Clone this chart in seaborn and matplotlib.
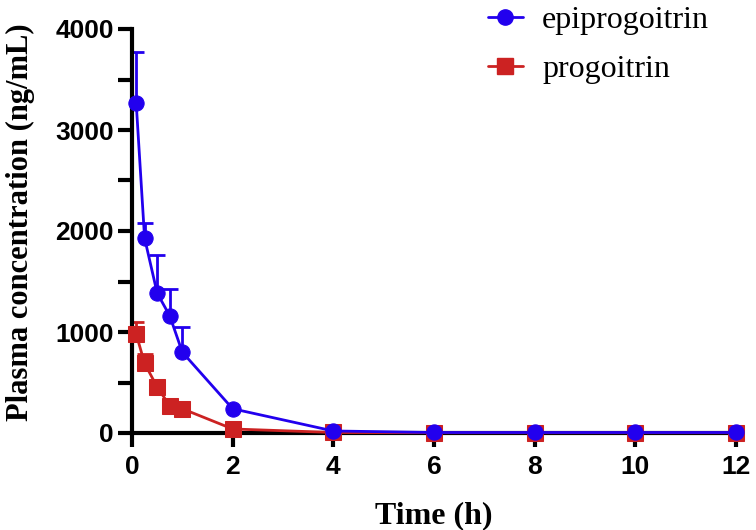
import numpy as np
import pandas as pd
import matplotlib
matplotlib.use("Agg")
import matplotlib.pyplot as plt
import seaborn as sns
from matplotlib.lines import Line2D

time_h = [0.083, 0.25, 0.5, 0.75, 1, 2, 4, 6, 8, 10, 12]
epi_mean = [3270, 1930, 1385, 1160, 800, 240, 20, 5, 5, 5, 5]
epi_sd = [500, 150, 380, 265, 250, 0, 0, 0, 0, 0, 0]
pro_mean = [980, 690, 455, 270, 240, 40, 5, 3, 3, 3, 3]
pro_sd = [120, 90, 50, 0, 0, 0, 0, 0, 0, 0, 0]
series_names = ["epiprogoitrin", "progoitrin"]
x_ticks = [0, 2, 4, 6, 8, 10, 12]
y_ticks = [0, 1000, 2000, 3000, 4000]

blue = "#2200EE"
red = "#CC2222"

sns.set_style("ticks", {"axes.edgecolor": "black", "text.color": "black",
                        "xtick.color": "black", "ytick.color": "black",
                        "axes.labelcolor": "black"})
plt.rcParams['font.family'] = ['Liberation Sans', 'DejaVu Sans']

df = pd.DataFrame({
    "time": time_h * 2,
    "conc": pro_mean + epi_mean,
    "compound": [series_names[1]] * len(time_h) + [series_names[0]] * len(time_h),
})

fig = plt.figure(figsize=(7.56, 5.30), dpi=100)
ax = fig.add_axes([132/756, 1 - 433/530, (736 - 132)/756, (433 - 29)/530])

for name, mean, sd, color, marker in [
    (series_names[1], pro_mean, pro_sd, red, "s"),
    (series_names[0], epi_mean, epi_sd, blue, "o"),
]:
    sub = df[df["compound"] == name]
    sns.lineplot(data=sub, x="time", y="conc", ax=ax, color=color, marker=marker,
                 markersize=11, markeredgecolor=color, linewidth=2, legend=False,
                 clip_on=False, zorder=3)
    mean_a = np.asarray(mean, float)
    sd_a = np.asarray(sd, float)
    has = sd_a > 0
    t_a = np.asarray(time_h, float)
    ax.errorbar(t_a[has], mean_a[has], yerr=[np.zeros(has.sum()), sd_a[has]], fmt="none",
                ecolor=color, elinewidth=2, capsize=0, clip_on=False, zorder=2)
    ax.plot(t_a[has], (mean_a + sd_a)[has], linestyle="none", marker="_",
            markersize=12, markeredgewidth=2, color=color, zorder=2)

ax.set_xlim(0, 12)
ax.set_ylim(0, 4000)
ax.set_xticks(x_ticks)
ax.set_yticks(y_ticks)
ax.set_yticks([500, 1500, 2500, 3500], minor=True)
ax.tick_params(axis="both", which="both", length=10, width=3, direction="out",
               color="black", labelcolor="black")
ax.tick_params(axis="y", pad=3)
ax.tick_params(axis="x", pad=6)
for lab in ax.get_xticklabels() + ax.get_yticklabels():
    lab.set_fontweight("bold")
    lab.set_fontsize(19)
sns.despine(ax=ax)
for s in ["left", "bottom"]:
    ax.spines[s].set_linewidth(3)
    ax.spines[s].set_color("black")

ax.set_xlabel("Time (h)", fontsize=23, fontweight="bold", family="Liberation Serif",
              labelpad=16, color="black")
ax.set_ylabel("Plasma concentration (ng/mL)", fontsize=22, fontweight="bold",
              family="Liberation Serif", color="black")
ax.yaxis.set_label_coords(-0.16, 0.522)

handles = [
    Line2D([0], [0], color=blue, marker="o", markersize=11, linewidth=2),
    Line2D([0], [0], color=red, marker="s", markersize=11, linewidth=2),
]
fig.legend(handles, series_names, loc="upper left", bbox_to_anchor=(459/756, 1.043),
           frameon=False, prop={"family": "Liberation Serif", "size": 23},
           handlelength=1.1, handletextpad=0.6, labelspacing=0.6)

fig.savefig("out.png", dpi=100)
